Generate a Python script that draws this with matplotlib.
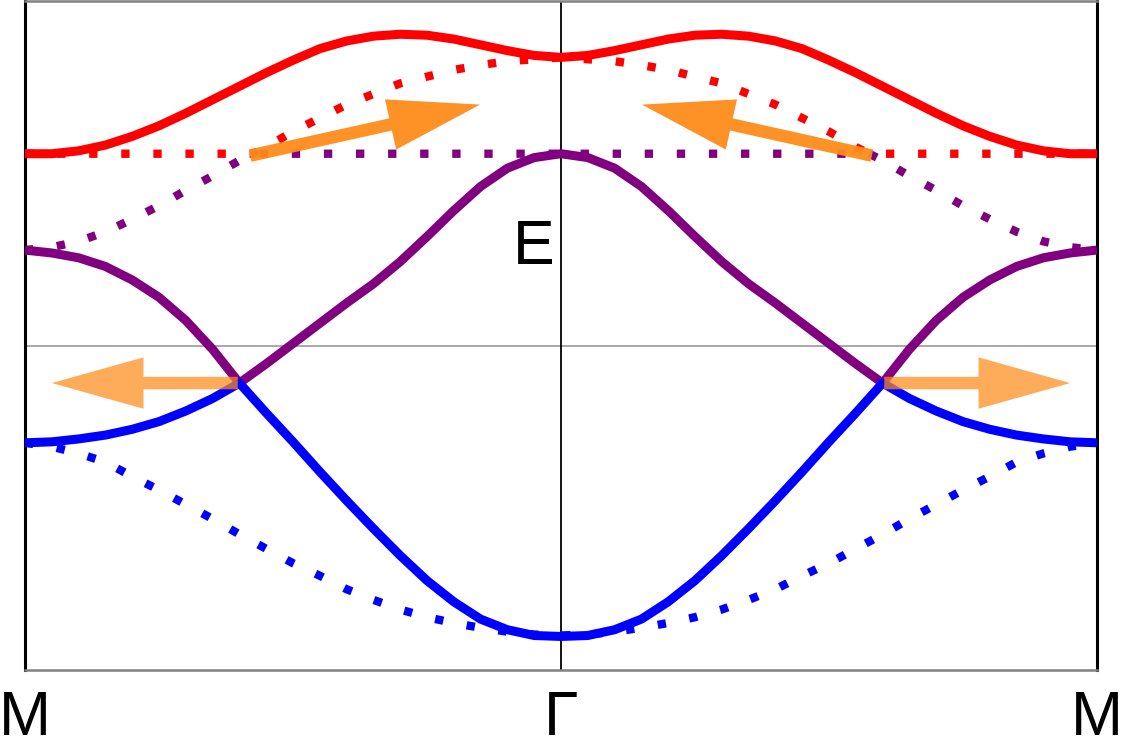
import matplotlib.pyplot as plt

plt.rcParams['font.family'] = ['Liberation Sans', 'DejaVu Sans']

#%% data (left half M -> Gamma, right half is the mirror)
k_half = [-1.0, -0.95, -0.9, -0.85, -0.8, -0.75, -0.7, -0.65, -0.6, -0.55, -0.5,
          -0.45, -0.4, -0.35, -0.3, -0.25, -0.2, -0.15, -0.1, -0.05, 0.0]

red_solid = [2.0, 2.0, 2.03, 2.09, 2.18, 2.29, 2.42, 2.56, 2.70, 2.84, 2.97,
             3.09, 3.17, 3.22, 3.24, 3.23, 3.19, 3.13, 3.07, 3.02, 3.0]
purple_solid = [1.0, 0.97, 0.92, 0.83, 0.69, 0.51, 0.27, -0.03, -0.38, -0.18, 0.03,
                0.24, 0.45, 0.65, 0.88, 1.14, 1.41, 1.66, 1.85, 1.96, 2.0]
blue_solid = [-1.0, -0.99, -0.96, -0.92, -0.86, -0.78, -0.67, -0.54, -0.38, -0.69, -0.99,
              -1.30, -1.60, -1.89, -2.17, -2.43, -2.65, -2.83, -2.94, -3.0, -3.01]
blue_dotted = [-1.0, -1.04, -1.11, -1.20, -1.35, -1.49, -1.64, -1.79, -1.95, -2.10, -2.25,
               -2.38, -2.52, -2.63, -2.73, -2.81, -2.87, -2.92, -2.96, -2.99, -3.0]

# dotted bands swap colour where the dispersive band meets the flat one
k_cross = -0.575
k_purple_dot = k_half[:9] + [k_cross, 0.0]
purple_dotted = [1.0, 1.03, 1.09, 1.19, 1.32, 1.46, 1.62, 1.77, 1.93, 2.0, 2.0]
k_red_dot = [-1.0, k_cross] + k_half[9:]
red_dotted = [2.0, 2.0, 2.07, 2.23, 2.37, 2.51, 2.62, 2.73, 2.80, 2.87, 2.92,
              2.96, 2.98, 3.0]

# arrows (tail, tip) in (k, E)
arrow_tails = [(-0.58, 1.98), (0.58, 1.98), (-0.603, -0.38), (0.603, -0.38)]
arrow_tips = [(-0.151, 2.51), (0.151, 2.51), (-0.95, -0.38), (0.95, -0.38)]
arrow_alpha = [0.95, 0.95, 0.72, 0.72]

tick_pos = [-1, 0, 1]
tick_labels = ['M', 'Γ', 'M']


def mirror(k, e):
    # append the Gamma -> M half
    return k + [-x for x in k[::-1][1:]], e + e[::-1][1:]


#%% plot
fig = plt.figure(figsize=(11.25, 7.55), dpi=100)
ax = fig.add_axes([25 / 1125, 85 / 755, 1072 / 1125, 669 / 755])

ax.axhline(0, color='#9a9a9a', lw=1.2, zorder=1)
ax.axvline(0, color='black', lw=1.3, zorder=1)

dot_style = dict(lw=6.0, ls=(0, (1.0, 2.85)), dash_capstyle='butt', zorder=2)
ax.plot(*mirror(k_half, blue_dotted), color='#0000ff', **dot_style)
ax.plot(*mirror(k_purple_dot, purple_dotted), color='#800080', **dot_style)
ax.plot(*mirror(k_red_dot, red_dotted), color='#ff0000', **dot_style)

solid_style = dict(lw=6.5, solid_capstyle='butt', solid_joinstyle='round', zorder=3)
ax.plot(*mirror(k_half, red_solid), color='#ff0000', **solid_style)
ax.plot(*mirror(k_half, purple_solid), color='#800080', **solid_style)
ax.plot(*mirror(k_half, blue_solid), color='#0000ff', **solid_style)

for tail, tip, a in zip(arrow_tails, arrow_tips, arrow_alpha):
    ax.annotate('', xy=tip, xytext=tail, zorder=4,
                arrowprops=dict(arrowstyle='simple,head_length=6.6,head_width=3.7,tail_width=0.9',
                                mutation_scale=10, color='#ff8c1a', alpha=a, lw=0,
                                shrinkA=0, shrinkB=0))

ax.text(-0.012, 1.03, 'E', fontsize=45, ha='right', va='center')

ax.set_xlim(-1, 1)
ax.set_ylim(-3.358, 3.585)
ax.set_xticks(tick_pos)
ax.set_xticklabels(tick_labels, fontsize=45)
ax.tick_params(axis='x', length=0, pad=14)
ax.set_yticks([])

for side in ['left', 'right']:
    ax.spines[side].set_color('black')
    ax.spines[side].set_linewidth(2.2)
for side in ['top', 'bottom']:
    ax.spines[side].set_color('#808080')
    ax.spines[side].set_linewidth(1.8)

fig.savefig('out.png', dpi=100)
